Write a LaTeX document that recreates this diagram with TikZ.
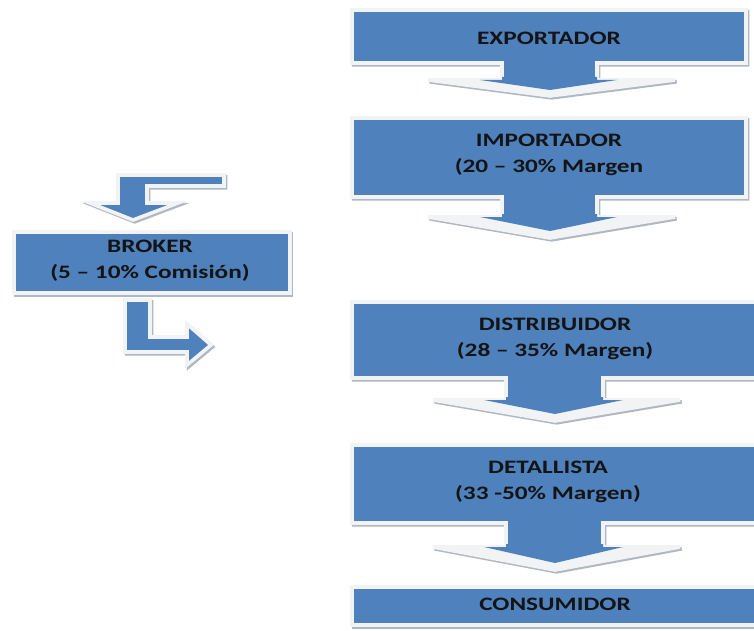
\documentclass[tikz,border=0pt]{standalone}
\usepackage{fontspec}
\newfontfamily\cf{Carlito}[FakeStretch=1.33]
\definecolor{ofblue}{HTML}{4F81BD}
\definecolor{rim}{HTML}{F2F3F5}
\definecolor{shade}{HTML}{9CA6B4}
\definecolor{txt}{HTML}{141414}
\tikzset{
  shapebody/.style={fill=ofblue, draw=rim, line width=3.6pt, line join=miter},
  shapeshadow/.style={draw=shade, line width=3.6pt, line join=miter, opacity=0.8},
  headrim/.style={fill=rim},
  headblue/.style={fill=ofblue},
  lbl/.style={font=\cf\bfseries\fontsize{19}{26}\selectfont, text=txt, align=center, inner sep=0pt},
}
\newcommand{\sdshape}[1]{%
  \draw[shapeshadow, shift={(1.6pt,-1.8pt)}] #1;
  \draw[shapebody] #1;}
% #1 stem left, #2 stem right, #3 shoulder y, #4 left shoulder x, #5 right shoulder x, #6 tip x, #7 tip y, #8 inner tip y
\newcommand{\headfill}[8]{%
  \fill[headrim] (#4,#3) -- (#5,#3) -- (#6,#7) -- cycle;
  \fill[headblue] (#1,#3-3) -- (#2,#3-3) -- (#2,#3) -- (#2+20,#3) -- (#6,#8) -- (#1-22,#3) -- (#1,#3) -- cycle;}
\begin{document}
\begin{tikzpicture}[x=1pt,y=-1pt]
\useasboundingbox (0,0) rectangle (754,631);
\fill[white] (0,0) rectangle (754,631);
\clip (0,0) rectangle (754,631);
% EXPORTADOR
\sdshape{(352,10) -- (746,10) -- (746,63) -- (597,63) -- (597,80) -- (675,80) -- (550,96) -- (428,80) -- (502,80) -- (502,63) -- (352,63) -- cycle}
\headfill{502}{597}{80}{428}{675}{550}{96}{90}
% IMPORTADOR
\sdshape{(352,118) -- (746,118) -- (746,197) -- (597,197) -- (597,217) -- (675,217) -- (550,238) -- (428,217) -- (502,217) -- (502,197) -- (352,197) -- cycle}
\headfill{502}{597}{217}{428}{675}{550}{238}{231}
% DISTRIBUIDOR
\sdshape{(352,302) -- (762,302) -- (762,378) -- (603,378) -- (603,400) -- (680,400) -- (555,421) -- (433,400) -- (506,400) -- (506,378) -- (352,378) -- cycle}
\headfill{506}{603}{400}{433}{680}{555}{421}{414}
% DETALLISTA
\sdshape{(352,445) -- (762,445) -- (762,523) -- (603,523) -- (603,547) -- (680,547) -- (555,570) -- (433,547) -- (506,547) -- (506,523) -- (352,523) -- cycle}
\headfill{506}{603}{547}{433}{680}{555}{570}{563}
% CONSUMIDOR
\sdshape{(352,587) -- (762,587) -- (762,625) -- (352,625) -- cycle}
% bent arrow into broker
\sdshape{(224,175) -- (224,186) -- (147,186) -- (147,203) -- (178,203) -- (133,220) -- (90,203) -- (118,203) -- (118,175) -- cycle}
% broker box
\sdshape{(14,232) -- (290,232) -- (290,293) -- (14,293) -- cycle}
% bent arrow out of broker
\sdshape{(125,300) -- (150,300) -- (150,337) -- (187,337) -- (187,324) -- (211,345) -- (187,365) -- (187,352) -- (125,352) -- cycle}
% labels
\node[lbl] (exp) at (549,38) {EXPORTADOR};
\node[lbl] (imp) at (549,155) {IMPORTADOR\\(20 – 30\% Margen};
\node[lbl] (bro) at (150,261) {BROKER\\(5 – 10\% Comisión)};
\node[lbl] (dis) at (555,339) {DISTRIBUIDOR\\(28 – 35\% Margen)};
\node[lbl] (det) at (548,482) {DETALLISTA\\(33 -50\% Margen)};
\node[lbl] (con) at (555,604) {CONSUMIDOR};
\end{tikzpicture}
\end{document}
